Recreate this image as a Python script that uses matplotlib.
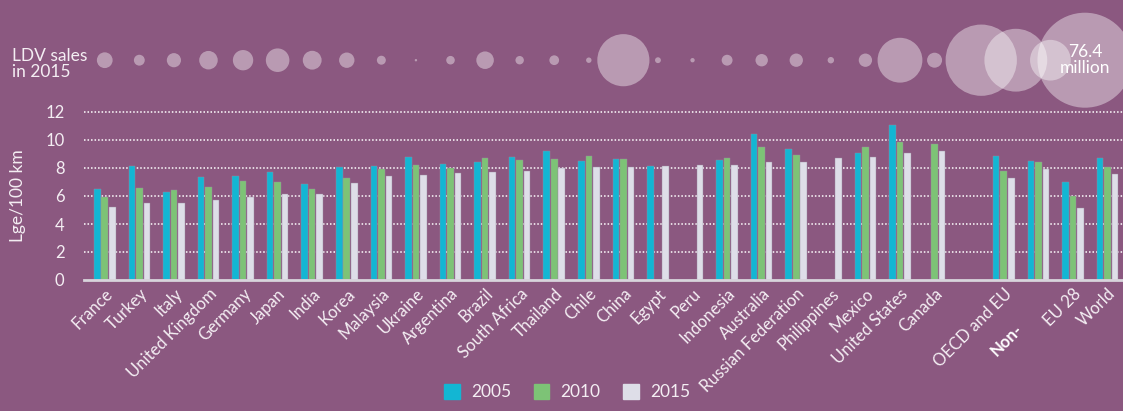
import numpy as np
import matplotlib
matplotlib.use("Agg")
import matplotlib.pyplot as plt
from matplotlib.patches import Patch
from matplotlib.transforms import blended_transform_factory

plt.rcParams["font.family"] = ["Lato", "DejaVu Sans"]

BG = "#8B5880"
C05, C10, C15 = "#13B6D3", "#7DC376", "#DEDEE8"
TXT = "#F4EEF3"

# countries / aggregates, in plot order (None = empty slot)
labels = ["France", "Turkey", "Italy", "United Kingdom", "Germany", "Japan", "India",
          "Korea", "Malaysia", "Ukraine", "Argentina", "Brazil", "South Africa",
          "Thailand", "Chile", "China", "Egypt", "Peru", "Indonesia", "Australia",
          "Russian Federation", "Philippines", "Mexico", "United States", "Canada",
          None, "OECD and EU", "Non-", "EU 28", "World"]

# average fuel economy, Lge/100 km (nan = no data)
nan = np.nan
fe_2005 = [6.48, 8.17, 6.31, 7.33, 7.43, 7.71, 6.83, 8.05, 8.17, 8.76, 8.31, 8.45, 8.79,
           9.21, 8.52, 8.67, 8.14, nan, 8.60, 10.43, 9.33, nan, 9.07, 11.07, nan,
           nan, 8.83, 8.52, 7.00, 8.74]
fe_2010 = [5.95, 6.60, 6.43, 6.67, 7.07, 7.02, 6.52, 7.26, 7.95, 8.21, 7.98, 8.71, 8.57,
           8.67, 8.83, 8.67, nan, nan, 8.71, 9.52, 8.95, nan, 9.50, 9.88, 9.69,
           nan, 7.76, 8.43, 6.02, 8.05]
fe_2015 = [5.24, 5.50, 5.50, 5.74, 5.95, 6.12, 6.17, 6.95, 7.43, 7.48, 7.67, 7.71, 7.79,
           8.00, 8.07, 8.07, 8.12, 8.19, 8.19, 8.40, 8.45, 8.71, 8.79, 9.07, 9.19,
           nan, 7.29, 7.90, 5.17, 7.55]

# light-duty vehicle sales in 2015, million
sales_2015 = [2.1, 1.0, 1.7, 2.9, 3.5, 4.7, 3.0, 2.0, 0.68, 0.05, 0.62, 2.6, 0.6,
              0.8, 0.25, 23.0, 0.29, 0.16, 1.0, 1.3, 1.5, 0.35, 1.5, 17.0, 1.9,
              nan, 43.0, 33.4, 14.0, 76.4]

x = np.arange(len(labels))
fig = plt.figure(figsize=(11.23, 4.11), dpi=100, facecolor=BG)
ax = fig.add_axes([84 / 1123, 131 / 411, 1 - 84 / 1123, 168 / 411])
ax.set_facecolor(BG)
ax.set_xlim(-0.6, 29.45)
ax.set_ylim(0, 12)

bw, off = 0.19, 0.217
for vals, dx, col in [(fe_2005, -off, C05), (fe_2010, 0, C10), (fe_2015, off, C15)]:
    ax.bar(x + dx, vals, width=bw, color=col, edgecolor="#9a8aa0", linewidth=0.3, zorder=3)

for yv in range(2, 13, 2):
    ax.axhline(yv, color="white", lw=1.1, ls=(0, (1, 1.3)), zorder=1, clip_on=False)
ax.axhline(0, color="#D8D4DC", lw=2, zorder=4, clip_on=False)

for s in ax.spines.values():
    s.set_visible(False)
ax.set_yticks(range(0, 13, 2))
ax.tick_params(axis="y", length=0, pad=14, labelsize=12, labelcolor=TXT)
ax.set_ylabel("Lge/100 km", color=TXT, fontsize=12.5, labelpad=14)

ax.set_xticks(x)
ax.set_xticklabels([l if l not in (None, "Non-") else "" for l in labels],
                   rotation=45, ha="right", rotation_mode="anchor", fontsize=12, color=TXT)
ax.tick_params(axis="x", length=0, pad=4)

# second line of the aggregate label, set below "OECD and EU"
xt = blended_transform_factory(ax.transData, ax.transAxes)
ax.annotate("Non-", xy=(labels.index("Non-"), 0), xycoords=xt,
            xytext=(-24, -41), textcoords="offset pixels",
            rotation=45, ha="right", va="top", rotation_mode="anchor", fontsize=12,
            fontweight="bold", color="white")

# sales bubbles above the bars (area ~ sales); aggregates nudged left to fit
sales = np.array(sales_2015, dtype=float)
r_px = 47.5 * np.sqrt(sales / 76.4)
bx = x - np.where(x >= 26, 0.65, 0.0)
ok = ~np.isnan(sales)
ax.scatter(bx[ok], np.full(ok.sum(), 15.7), s=(2 * r_px[ok] * 0.72) ** 2, color="white",
           alpha=0.4, linewidths=0, clip_on=False, zorder=2)
ax.text(bx[-1], 15.7, "76.4\nmillion", ha="center", va="center", fontsize=12.5,
        color="white", linespacing=1.0)
fig.text(12 / 1123, 1 - 64 / 411, "LDV sales\nin 2015", ha="left", va="center",
         fontsize=12.5, color=TXT, linespacing=1.05)

handles = [Patch(color=C05, label="2005"), Patch(color=C10, label="2010"),
           Patch(color=C15, label="2015")]
fig.legend(handles=handles, loc="lower center", bbox_to_anchor=(0.505, -0.012), ncol=3,
           frameon=False, fontsize=12.5, labelcolor=TXT, handlelength=0.9, handleheight=0.9,
           handletextpad=0.65, columnspacing=1.3)

fig.savefig("out.png", dpi=100, facecolor=BG)
